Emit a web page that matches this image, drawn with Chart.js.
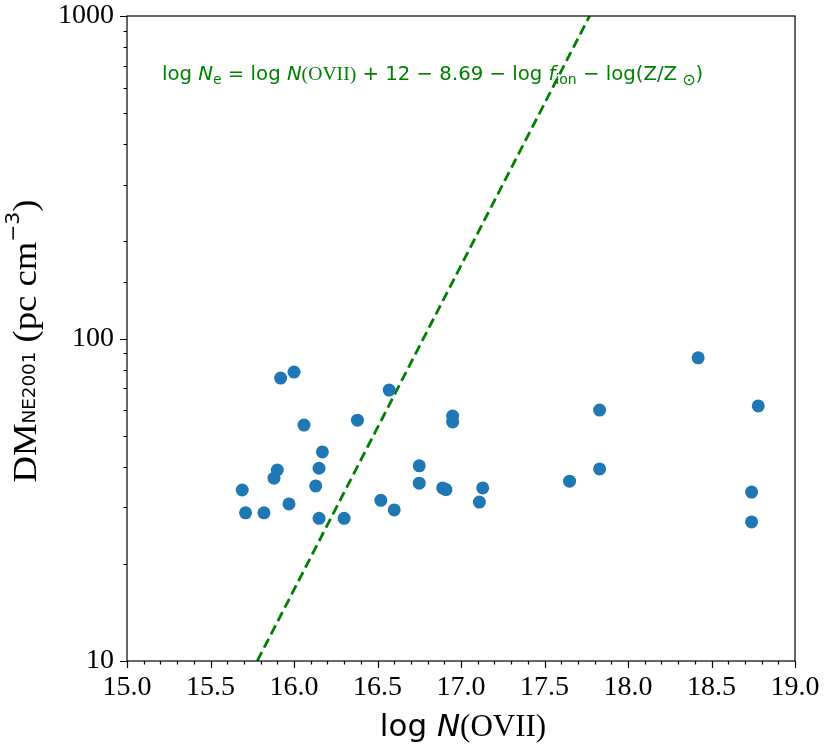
<!DOCTYPE html>
<html>
<head>
<meta charset="utf-8">
<script src="https://cdn.jsdelivr.net/npm/chart.js@4"></script>
<style>
  html,body{margin:0;padding:0;background:#fff;}
  #wrap{width:825px;height:750px;}
</style>
</head>
<body>
<div id="wrap"><canvas id="ch" width="825" height="750"></canvas></div>
<script>
// scatter values
const logN = [15.69,15.71,15.82,15.88,15.90,15.92,16.00,15.97,16.06,16.13,16.15,16.17,16.15,16.30,16.38,16.57,16.52,16.60,
              16.75,16.75,16.89,16.91,16.95,16.95,17.13,17.11,17.65,17.83,17.83,18.42,18.78,18.74,18.74];
const dm   = [33.9,28.8,28.8,36.9,39.1,75.4,78.7,30.7,53.9,34.9,39.6,44.5,27.7,27.7,55.8,69.2,31.5,29.4,
              40.3,35.6,34.4,34.0,57.5,55.1,34.4,31.1,36.1,39.4,60.0,87.1,61.8,33.4,27.0];
// dashed relation line (end points)
const lineX = [15.78, 17.77];
const lineY = [10, 1000];
const xTicksMajor = [15.0,15.5,16.0,16.5,17.0,17.5,18.0,18.5,19.0];
const yTicksMajor = [10,100,1000];

const SERIF = '"Liberation Serif","Times New Roman",Times,serif';
const SANS = '"DejaVu Sans",sans-serif';

function drawRuns(ctx, runs, x, y, align, fitWidth){
  // runs: [text, font, dy]
  let total = 0;
  runs.forEach(r => { ctx.font = r[1]; total += ctx.measureText(r[0]).width; });
  ctx.save();
  ctx.translate(x, y);
  if(fitWidth){ ctx.scale(fitWidth/total, 1); }
  let cx = align === 'center' ? -total/2 : 0;
  runs.forEach(r => {
    ctx.font = r[1];
    ctx.fillText(r[0], cx, (r[2]||0));
    cx += ctx.measureText(r[0]).width;
  });
  ctx.restore();
}

const decor = {
  id:'decor',
  afterDraw(chart){
    const {ctx, chartArea:a, scales:{x, y}} = chart;
    ctx.save();
    ctx.strokeStyle = '#000';
    ctx.lineWidth = 1.2;
    ctx.strokeRect(a.left, a.top, a.right-a.left, a.bottom-a.top);
    // ticks
    ctx.beginPath();
    x.ticks.forEach(t => {
      const px = Math.round(x.getPixelForValue(t.value)) + 0.5;
      const major = Math.abs(t.value*2 - Math.round(t.value*2)) < 1e-6;
      ctx.moveTo(px, a.bottom); ctx.lineTo(px, a.bottom + (major ? 7 : 3.5));
    });
    y.ticks.forEach(t => {
      const py = Math.round(y.getPixelForValue(t.value)) + 0.5;
      const major = yTicksMajor.includes(t.value);
      ctx.moveTo(a.left, py); ctx.lineTo(a.left - (major ? 7 : 3.5), py);
    });
    ctx.stroke();

    ctx.fillStyle = '#000';
    ctx.textBaseline = 'alphabetic';
    // x title
    drawRuns(ctx, [
      ['log ', '31px '+SANS], ['N', 'italic 31px '+SANS], ['(OVII)', '31px '+SERIF]
    ], (a.left+a.right)/2 + 2, 736, 'center');
    // y title
    ctx.save();
    ctx.translate(36, 341);
    ctx.rotate(-Math.PI/2);
    drawRuns(ctx, [
      ['DM', '34px '+SERIF], ['NE2001', '17px '+SANS, -1], [' (pc cm', '34px '+SERIF],
      ['\u22123', '19px '+SANS, -17], [')', '34px '+SERIF]
    ], 0, 0, 'center', 283);
    ctx.restore();

    // green annotation
    ctx.fillStyle = '#008000';
    const s = '19.7px '+SANS, si = 'italic 19.7px '+SANS, sub = '14px '+SANS, sr = '19.7px '+SERIF;
    drawRuns(ctx, [
      ['log ', s], ['N', si], ['e', sub, 4], [' = log ', s], ['N', si], ['(OVII)', sr],
      [' + 12 \u2212 8.69 \u2212 log ', s], ['f', si], ['ion', sub, 4], [' \u2212 log(', s],
      ['Z', s], ['/', s], ['Z', s], [' \u2299', '16px '+SANS, 5], [')', s]
    ], 162, 80, 'left');
    ctx.restore();
  }
};

new Chart(document.getElementById('ch'), {
  type:'scatter',
  data:{
    datasets:[
      {type:'line', data: lineX.map((v,i)=>({x:v, y:lineY[i]})), borderColor:'#008000', borderWidth:2.8,
       borderDash:[10,5], pointRadius:0, fill:false, order:2},
      {data: logN.map((v,i)=>({x:v, y:dm[i]})), backgroundColor:'#1f77b4', borderColor:'#1f77b4',
       pointRadius:6.5, pointHoverRadius:6.5, borderWidth:0, order:1}
    ]
  },
  options:{
    responsive:false, animation:false, devicePixelRatio:1,
    layout:{padding:{top:16, right:30, left:0, bottom:0}},
    plugins:{legend:{display:false}, tooltip:{enabled:false}},
    scales:{
      x:{type:'linear', min:15, max:19,
         grid:{display:false, drawTicks:false}, border:{display:false},
         ticks:{stepSize:0.1, autoSkip:false, maxRotation:0, padding:10, color:'#000',
                font:{family:SERIF, size:28},
                callback:v => xTicksMajor.some(m => Math.abs(m-v)<1e-6) ? v.toFixed(1) : ''},
         afterFit:s => { s.height = 89; s.paddingLeft = 0; s.paddingRight = 0; }},
      y:{type:'logarithmic', min:10, max:1000,
         grid:{display:false, drawTicks:false}, border:{display:false},
         ticks:{autoSkip:false, padding:13, color:'#000', font:{family:SERIF, size:28},
                callback:v => yTicksMajor.includes(v) ? String(v) : ''},
         afterFit:s => { s.width = 127; s.paddingTop = 0; s.paddingBottom = 0; }}
    }
  },
  plugins:[decor]
});
</script>
</body>
</html>
